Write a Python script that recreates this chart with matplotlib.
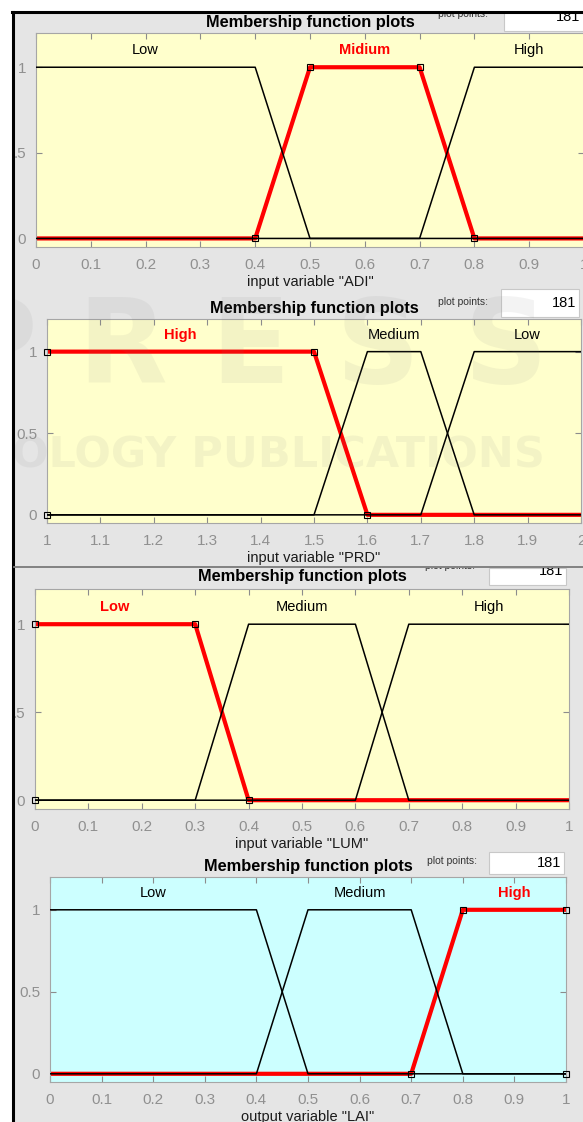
import numpy as np
import matplotlib
matplotlib.use('Agg')
import matplotlib.pyplot as plt
from matplotlib.patches import Rectangle
from matplotlib.lines import Line2D
from matplotlib.transforms import Bbox

plt.rcParams['font.family'] = ['Liberation Sans', 'DejaVu Sans']

W, H = 583, 1122

# membership functions (trapmf params a b c d)
adi_range = [0, 1]
adi_names = ['Low', 'Midium', 'High']
adi_params = [[0, 0, 0.4, 0.5], [0.4, 0.5, 0.7, 0.8], [0.7, 0.8, 1, 1]]
adi_sel = 1

prd_range = [1, 2]
prd_names = ['High', 'Medium', 'Low']
prd_params = [[1, 1, 1.5, 1.6], [1.5, 1.6, 1.7, 1.8], [1.7, 1.8, 2, 2]]
prd_sel = 0

lum_range = [0, 1]
lum_names = ['Low', 'Medium', 'High']
lum_params = [[0, 0, 0.3, 0.4], [0.3, 0.4, 0.6, 0.7], [0.6, 0.7, 1, 1]]
lum_sel = 0

lai_range = [0, 1]
lai_names = ['Low', 'Medium', 'High']
lai_params = [[0, 0, 0.4, 0.5], [0.4, 0.5, 0.7, 0.8], [0.7, 0.8, 1, 1]]
lai_sel = 2

xlabels = ['input variable "ADI"', 'input variable "PRD"',
           'input variable "LUM"', 'output variable "LAI"']
ytick_labels = [['0', '.5', '1'], ['0', '0.5', '1'], ['0', '.5', '1'], ['0', '0.5', '1']]
n_points = 181

# pixel layout: axes (left, top, right, bottom), title centre, plot-points box
layout = [
    dict(ax=(36, 33, 584, 247), bg='#ffffcc', title=(310, 22), pp=(463, 14), box=(504, 5, 590, 31), num=(580, 17)),
    dict(ax=(47, 319, 581, 523), bg='#ffffcc', title=(314, 309), pp=(463, 302), box=(501, 289, 579, 317), num=(576, 303)),
    dict(ax=(35, 589, 569, 809), bg='#ffffcc', title=(302, 577), pp=(450, 566), box=(489, 568, 566, 585), num=(563, 571)),
    dict(ax=(50, 877, 566, 1082), bg='#ccffff', title=(308, 867), pp=(452, 861), box=(489, 852, 564, 874), num=(561, 863)),
]

panels = [
    (adi_range, adi_names, adi_params, adi_sel),
    (prd_range, prd_names, prd_params, prd_sel),
    (lum_range, lum_names, lum_params, lum_sel),
    (lai_range, lai_names, lai_params, lai_sel),
]


def trapmf(x, p):
    a, b, c, d = p
    left = np.ones_like(x) if b == a else np.clip((x - a) / (b - a), 0, 1)
    right = np.ones_like(x) if d == c else np.clip((d - x) / (d - c), 0, 1)
    y = np.minimum(left, right)
    y[(x < a) | (x > d)] = 0
    return y


def fx(x):
    return x / W


def fy(y):
    return 1 - y / H


fig = plt.figure(figsize=(W / 100, H / 100), dpi=100)
fig.patch.set_facecolor('#e5e5e5')

for k, ((rng, names, params, sel), lay) in enumerate(zip(panels, layout)):
    l, t, r, b = lay['ax']
    ax = fig.add_axes([fx(l), fy(b), (r - l) / W, (b - t) / H])
    ax.set_facecolor(lay['bg'])
    x = np.linspace(rng[0], rng[1], n_points)
    for i, p in enumerate(params):
        if i == sel:
            continue
        ax.plot(x, trapmf(x, p), color='black', lw=1.1, zorder=3)
        ax.text((p[1] + p[2]) / 2, 1.1, names[i], ha='center', va='center',
                fontsize=10.5, color='black')
    p = params[sel]
    ax.plot(x, trapmf(x, p), color='red', lw=3, zorder=2)
    ax.plot([p[0], p[1], p[2], p[3]], [0, 1, 1, 0], ls='none', marker='s',
            ms=5, mfc='none', mec='black', mew=0.8, zorder=4, clip_on=False)
    ax.text((p[1] + p[2]) / 2, 1.1, names[sel], ha='center', va='center',
            fontsize=10.5, color='red', weight='bold')

    ax.set_xlim(rng)
    ax.set_ylim(-0.05, 1.2)
    xt = np.linspace(rng[0], rng[1], 11)
    ax.set_xticks(xt)
    ax.set_xticklabels(['%g' % round(v, 1) for v in xt])
    ax.set_yticks([0, 0.5, 1])
    ax.set_yticklabels(ytick_labels[k])
    ax.tick_params(direction='in', top=True, right=True, length=4, width=0.8,
                   color='#8c8c8c', labelcolor='#909090', labelsize=11)
    ax.tick_params(axis='x', pad=8)
    ax.tick_params(axis='y', pad=7)
    for s in ax.spines.values():
        s.set_color('#a6a6a6')
    ax.set_xlabel(xlabels[k], fontsize=10.5, color='#1a1a1a', labelpad=2)

    clip = None
    if k == 2:
        clip = Bbox.from_extents(0, 0, W, H - 568)
    tx, ty = lay['title']
    fig.text(fx(tx), fy(ty), 'Membership function plots', ha='center', va='center',
             fontsize=11.8, weight='bold')
    bl, bt, br, bb = lay['box']
    fig.add_artist(Rectangle((fx(bl), fy(bb)), (br - bl) / W, (bb - bt) / H,
                             transform=fig.transFigure, facecolor='white',
                             edgecolor='#c8c8c8', lw=0.8, zorder=2))
    px, py = lay['pp']
    t1 = fig.text(fx(px), fy(py), 'plot points:', ha='center', va='center',
                  fontsize=7.5, color='#333333', zorder=3)
    nx, ny = lay['num']
    t2 = fig.text(fx(nx), fy(ny), '181', ha='right', va='center',
                  fontsize=10.5, color='black', zorder=3)
    if clip is not None:
        for tt in (t1, t2):
            tt.set_clip_box(clip)
            tt.set_clip_on(True)

# faint publisher watermark
for i, ch in enumerate('PRESS'):
    fig.text(fx(-6 + 128 * i), fy(350), ch, ha='center', va='center', fontsize=84,
             weight='bold', family='DejaVu Sans', color='#808080', alpha=0.09, zorder=6)
fig.text(fx(278), fy(455), 'OLOGY PUBLICATIONS', ha='center', va='center', fontsize=31,
         weight='bold', family='DejaVu Sans', color='#808080', alpha=0.09, zorder=6)

# window frame and divider
fig.add_artist(Rectangle((0, fy(11)), 1, 11 / H, transform=fig.transFigure,
                         facecolor='white', edgecolor='none', zorder=7))
fig.add_artist(Rectangle((0, 0), 12 / W, 1, transform=fig.transFigure,
                         facecolor='white', edgecolor='none', zorder=7))
fig.add_artist(Line2D([fx(12), 1], [fy(12), fy(12)], transform=fig.transFigure,
                      color='black', lw=2.2, zorder=8))
fig.add_artist(Line2D([fx(13), fx(13)], [0, fy(12)], transform=fig.transFigure,
                      color='black', lw=2.2, zorder=8))
fig.add_artist(Line2D([fx(14), 1], [fy(567), fy(567)], transform=fig.transFigure,
                      color='#7a7a7a', lw=1.3, zorder=8))

fig.savefig('out.png', dpi=100, facecolor=fig.get_facecolor())
